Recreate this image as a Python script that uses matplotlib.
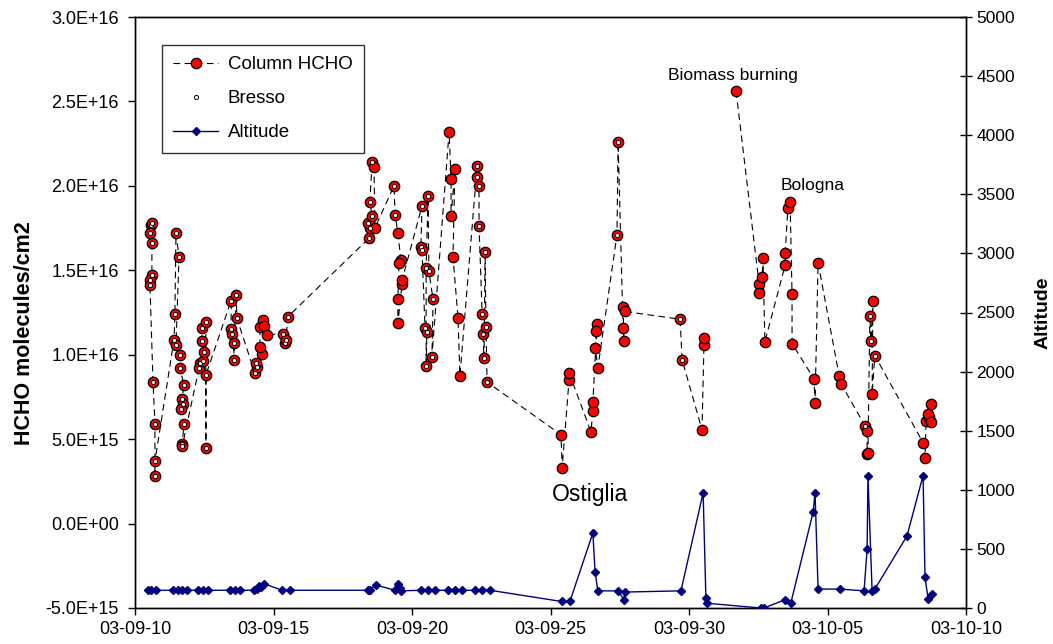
import numpy as np
import matplotlib
matplotlib.use("Agg")
import matplotlib.pyplot as plt
import matplotlib.dates as mdates
import matplotlib.ticker as mticker
from datetime import datetime, timedelta

plt.rcParams['font.family'] = ['Liberation Sans', 'DejaVu Sans']

START = datetime(2003, 9, 10)

# Column HCHO: time (days after 2003-09-10 00:00) and value (1e15 molecules/cm2); NaN = break in line
hcho_day = [0.58, 0.61, 0.54, 0.61, 0.61, 0.54, 0.54, 0.65, 0.72, 0.72, 0.72,
            1.41, 1.44, 1.48, 1.59, 1.48, 1.62, 1.62, 1.77, 1.70, 1.73, 1.66, 1.77, 1.70, 1.71,
            2.35, 2.31, 2.45, 2.49, 2.42, 2.42, 2.56, 2.56, 2.56,
            3.47, 3.47, 3.50, 3.57, 3.57, 3.65, 3.68,
            4.33, 4.40, 4.37, 4.58, 4.51, 4.51, 4.62, 4.66, 4.77,
            5.34, 5.42, 5.45, 5.52,
            8.45, 8.48, 8.41, 8.56, 8.48, 8.56, 8.63, 8.66,
            9.35, 9.39, 9.49, 9.60, 9.53, 9.49, 9.49, 9.64, 9.64,
            10.36, 10.32, 10.36, 10.47, 10.54, 10.51, 10.51, 10.58, 10.61, 10.76, 10.72,
            11.34, 11.41, 11.41, 11.55, 11.48, 11.66, 11.73,
            12.35, 12.35, 12.42, 12.42, 12.53, 12.56, 12.60, 12.64, 12.67, 12.71,
            15.38, 15.42, 15.67, 15.67,
            16.46, 16.53, 16.53, 16.68, 16.64, 16.61, 16.71,
            17.40, 17.44, 17.62, 17.65, 17.62, 17.69,
            19.68, 19.75, 20.47, 20.54, 20.54,
            21.10,
            21.70,
            22.53, 22.53, 22.64, 22.67, 22.74,
            23.47, 23.47, 23.57, 23.65, 23.72, 23.72,
            24.51, 24.55, 24.66,
            25.42, 25.49,
            26.35, 26.43, 26.43, 26.46, 26.53, 26.57, 26.64, 26.61, 26.71,
            28.45, 28.52, 28.56, 28.66, 28.63, 28.74, 28.74]
hcho_val = [17.7, 17.8, 17.2, 16.6, 14.7, 14.4, 14.1, 8.4, 5.9, 2.8, 3.7,
            10.9, 12.4, 17.2, 15.8, 10.6, 10.0, 9.2, 8.2, 7.4, 7.1, 6.8, 5.9, 4.7, 4.6,
            9.5, 9.2, 9.6, 10.15, 10.8, 11.6, 11.95, 4.5, 8.8,
            13.2, 11.55, 11.2, 10.7, 9.7, 13.55, 12.15,
            8.9, 9.25, 9.5, 10.05, 10.44, 11.66, 12.07, 11.7, 11.17,
            11.25, 10.7, 10.9, 12.25,
            16.9, 17.5, 17.8, 18.2, 19.07, 21.4, 21.1, 17.5,
            20.0, 18.3, 17.2, 15.6, 15.45, 13.3, 11.85, 14.2, 14.4,
            18.8, 16.4, 16.23, 11.6, 11.37, 9.35, 15.16, 19.37, 14.93, 13.27, 9.89,
            23.2, 20.4, 18.2, 20.97, 15.8, 12.2, 8.76,
            21.15, 20.5, 19.97, 17.6, 12.44, 11.2, 9.8, 16.06, 11.67, 8.38,
            5.26, 3.3, 8.5, 8.94,
            5.44, 6.69, 7.22, 11.8, 11.4, 10.4, 9.24,
            17.1, 22.6, 11.6, 10.84, 12.8, 12.56,
            12.1, 9.7, 5.56, 10.6, 11.0,
            np.nan,
            25.6,
            14.2, 13.67, 14.6, 15.7, 10.77,
            15.3, 16.0, 18.7, 19.07, 13.6, 10.66,
            8.58, 7.16, 15.45,
            8.76, 8.28,
            5.8, 5.5, 4.1, 4.2, 12.3, 10.84, 13.2, 7.7, 9.95,
            4.79, 3.9, 6.1, 6.3, 6.5, 7.1, 6.0]

# Bresso (ground-site) points
bresso_day = [0.58, 0.61, 0.54, 0.61, 0.61, 0.54, 0.54, 0.65, 0.72, 0.72, 0.72,
              1.41, 1.44, 1.48, 1.59, 1.48, 1.62, 1.62, 1.77, 1.70, 1.73, 1.66, 1.77, 1.70, 1.71,
              2.35, 2.31, 2.45, 2.49, 2.42, 2.42, 2.56, 2.56, 2.56,
              3.47, 3.47, 3.50, 3.57, 3.57, 3.65, 3.68,
              4.33, 4.40, 4.37,
              5.34, 5.42, 5.45, 5.52,
              8.45, 8.48, 8.41, 8.56, 8.48, 8.56,
              9.35, 9.39,
              10.36, 10.32, 10.36, 10.47, 10.54, 10.51, 10.51, 10.58, 10.61, 10.76, 10.72,
              12.35, 12.35, 12.42, 12.42, 12.53, 12.56, 12.60, 12.64, 12.67, 12.71,
              17.40, 17.44, 19.68, 19.75,
              26.35, 26.53, 26.57, 26.71]
bresso_val = [17.7, 17.8, 17.2, 16.6, 14.7, 14.4, 14.1, 8.4, 5.9, 2.8, 3.7,
              10.9, 12.4, 17.2, 15.8, 10.6, 10.0, 9.2, 8.2, 7.4, 7.1, 6.8, 5.9, 4.7, 4.6,
              9.5, 9.2, 9.6, 10.15, 10.8, 11.6, 11.95, 4.5, 8.8,
              13.2, 11.55, 11.2, 10.7, 9.7, 13.55, 12.15,
              8.9, 9.25, 9.5,
              11.25, 10.7, 10.9, 12.25,
              16.9, 17.5, 17.8, 18.2, 19.07, 21.4,
              20.0, 18.3,
              18.8, 16.4, 16.23, 11.6, 11.37, 9.35, 15.16, 19.37, 14.93, 13.27, 9.89,
              21.15, 20.5, 19.97, 17.6, 12.44, 11.2, 9.8, 16.06, 11.67, 8.38,
              17.1, 22.6, 12.1, 9.7,
              5.8, 12.3, 10.84, 9.95]

# Altitude (m)
alt_day = [0.47, 0.58, 0.76,
           1.37, 1.55, 1.70, 1.88,
           2.27, 2.45, 2.64,
           3.43, 3.61, 3.79,
           4.30, 4.40, 4.48, 4.55, 4.66,
           5.31, 5.60,
           8.41, 8.48, 8.69,
           9.39, 9.49, 9.55, 9.60,
           10.32, 10.58, 10.83,
           11.30, 11.55, 11.81,
           12.27, 12.53, 12.82,
           15.40, 15.70,
           16.53, 16.61, 16.71,
           17.44, 17.65, 17.69,
           19.71, 20.51, 20.61, 20.65,
           22.60, 22.70,
           23.47, 23.68,
           24.48, 24.55, 24.66,
           25.45,
           26.32, 26.43, 26.46, 26.61, 26.71,
           27.87, 28.45, 28.52, 28.63, 28.77]
alt_val = [150, 150, 150,
           150, 150, 150, 150,
           150, 150, 150,
           150, 150, 150,
           150, 160, 190, 175, 205,
           150, 150,
           150, 150, 195,
           150, 200, 170, 145,
           150, 150, 150,
           150, 150, 150,
           150, 150, 150,
           55, 55,
           635, 305, 145,
           145, 70, 135,
           145, 975, 85, 40,
           0, 0,
           70, 45,
           810, 975, 160,
           160,
           145, 500, 1120, 145, 160,
           610, 1120, 260, 80, 120]

y_ticks = np.arange(-5e15, 3.01e16, 5e15)
alt_ticks = np.arange(0, 5001, 500)


def to_dates(days):
    return [START + timedelta(days=d) for d in days]


fig = plt.figure(figsize=(10.53, 6.44), dpi=100)
ax1 = fig.add_axes([135 / 1053, 1 - 608 / 644, (966 - 135) / 1053, (608 - 17) / 644])
ax2 = ax1.twinx()

hv = np.array(hcho_val) * 1e15
bv = np.array(bresso_val) * 1e15

l1, = ax1.plot(to_dates(hcho_day), hv, linestyle=(0, (6, 4)), color='black', linewidth=0.8,
               marker='o', markersize=7.5, markerfacecolor='#ff0000', markeredgecolor='black',
               markeredgewidth=0.9, label='Column HCHO', zorder=3)
l2, = ax1.plot(to_dates(bresso_day), bv, linestyle='none', marker='o', markersize=3,
               markerfacecolor='white', markeredgecolor='black', markeredgewidth=0.7,
               label='Bresso', zorder=4)
l3, = ax2.plot(to_dates(alt_day), alt_val, color='#000080', linewidth=1.0, marker='D',
               markersize=4.5, markerfacecolor='#000080', markeredgecolor='#000080',
               label='Altitude', zorder=3)

ax1.set_ylim(-5e15, 3e16)
ax1.set_yticks(y_ticks)
ax1.yaxis.set_major_formatter(mticker.FuncFormatter(lambda v, p: '%.1E' % v))
ax2.set_ylim(0, 5000)
ax2.set_yticks(alt_ticks)

ax1.set_xlim(START, START + timedelta(days=30))
ax1.xaxis.set_major_locator(mticker.FixedLocator(
    [mdates.date2num(START + timedelta(days=5 * i)) for i in range(7)]))
ax1.xaxis.set_major_formatter(mdates.DateFormatter('%y-%m-%d'))

ax1.tick_params(axis='y', labelsize=13, direction='out', length=5, width=1, pad=6.5)
ax1.tick_params(axis='x', labelsize=13, direction='out', length=5, width=1, pad=4)
ax2.tick_params(axis='y', labelsize=12.5, direction='inout', length=8, width=1)

fig.text(25 / 1053, 1 - 333 / 644, 'HCHO molecules/cm2', fontsize=15.5, fontweight='bold',
         rotation=90, ha='center', va='center')
ax2.set_ylabel('Altitude', fontsize=14, fontweight='bold', labelpad=14)

for sp in list(ax1.spines.values()) + list(ax2.spines.values()):
    sp.set_linewidth(1.0)
    sp.set_color('black')

ax1.text(mdates.date2num(START + timedelta(days=21.6)), 2.655e16, 'Biomass burning',
         fontsize=12.5, ha='center', va='center')
ax1.text(mdates.date2num(START + timedelta(days=24.48)), 2.0e16, 'Bologna',
         fontsize=12.5, ha='center', va='center')
ax1.text(mdates.date2num(START + timedelta(days=16.43)), 1.75e15, 'Ostiglia',
         fontsize=16.5, ha='center', va='center')

leg = ax2.legend(handles=[l1, l2, l3], loc='upper left',
                 bbox_to_anchor=(162 / 1053, 1 - 45 / 644), bbox_transform=fig.transFigure,
                 fontsize=13.5, frameon=True, fancybox=False, borderpad=0.6,
                 handlelength=2.4, handletextpad=0.5, labelspacing=0.9, borderaxespad=0)
leg.get_frame().set_edgecolor('black')
leg.get_frame().set_linewidth(1.0)

fig.savefig('out.png', dpi=100)
